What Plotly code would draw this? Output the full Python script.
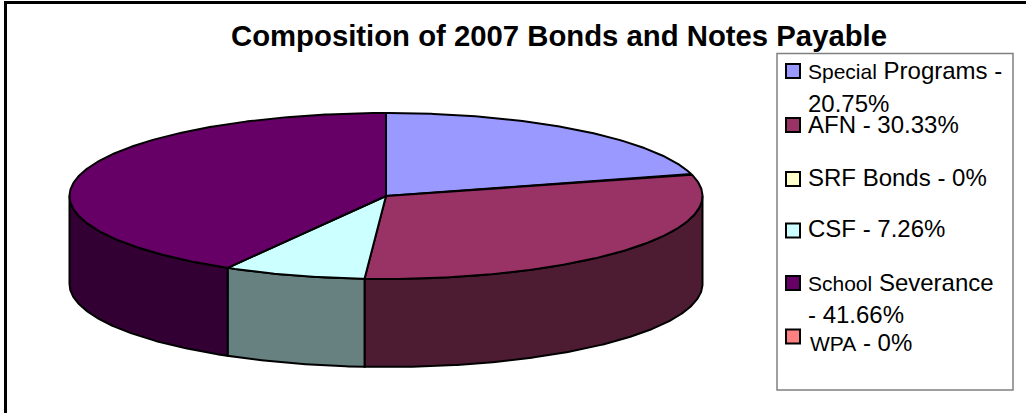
import numpy as np
import plotly.graph_objects as go

# Chart content
TITLE = "Composition of 2007 Bonds and Notes Payable"
categories = ["Special Programs", "AFN", "SRF Bonds", "CSF", "School Severance", "WPA"]
shares = [20.75, 30.33, 0, 7.26, 41.66, 0]
top_colors = ["#9999FF", "#993366", "#FFFFCC", "#CCFFFF", "#660066", "#FF8080"]
side_colors = ["#4C4C80", "#4D1C33", "#808066", "#678080", "#330033", "#804040"]

# Pie geometry, in canvas pixels
CX, CY = 386, 196
RX, RY = 316.5, 83
DEPTH = 88
W, H = 1026, 413
OUTLINE = "#000000"


def rim(t0, t1, dy=0.0):
    """Points along the ellipse between two clockwise angles (radians from 12 o'clock)."""
    t = np.linspace(t0, t1, max(2, int(abs(t1 - t0) * 120)))
    return CX + RX * np.sin(t), CY - RY * np.cos(t) + dy


fig = go.Figure()


def poly(x, y, color):
    fig.add_trace(go.Scatter(
        x=x, y=y, mode="lines", fill="toself", fillcolor=color,
        line=dict(color=OUTLINE, width=2), hoverinfo="skip", showlegend=False,
    ))


# Slice boundaries follow from the cumulative shares
edges = np.concatenate([[0], np.cumsum(shares)]) / sum(shares) * 2 * np.pi

# Outer wall: only the front half of the rim is visible
for i, color in enumerate(side_colors):
    t0, t1 = max(edges[i], np.pi / 2), min(edges[i + 1], 3 * np.pi / 2)
    if t1 <= t0:
        continue
    xt, yt = rim(t0, t1)
    xb, yb = rim(t1, t0, DEPTH)
    poly(np.r_[xt, xb, xt[0]], np.r_[yt, yb, yt[0]], color)

# Top face wedges
for i, color in enumerate(top_colors):
    if shares[i] == 0:
        continue
    xt, yt = rim(edges[i], edges[i + 1])
    poly(np.r_[CX, xt, CX], np.r_[CY, yt, CY], color)

# Legend entries: (swatch index, swatch y, [(text, text x, text y)])
LEGEND_FONT = 24
SMALL_FONT = 21
small = lambda s: f'<span style="font-size:{SMALL_FONT}px">{s}</span>'
legend_rows = [
    (0, 71, [(small("Special") + " Programs -", 806, 70), ("20.75%", 806, 103)]),
    (1, 125, [("AFN - 30.33%", 806, 124)]),
    (2, 179, [("SRF Bonds - 0%", 806, 177)]),
    (3, 230.5, [("CSF - 7.26%", 806, 228)]),
    (4, 283, [(small("School") + " Severance", 806, 282), ("- 41.66%", 806, 314)]),
    (5, 336.5, [(small("WPA") + " - 0%", 808, 342)]),
]

annotations = [dict(
    text=f"<b>{TITLE}</b>", x=559, y=35, xref="x", yref="y", showarrow=False,
    font=dict(family="Liberation Sans", size=29.3, color="#000000"),
)]
swatch_x, swatch_y, swatch_c = [], [], []
for idx, sy, lines in legend_rows:
    swatch_x.append(793)
    swatch_y.append(sy)
    swatch_c.append(top_colors[idx])
    for text, tx, ty in lines:
        annotations.append(dict(
            text=text, x=tx, y=ty, xref="x", yref="y", xanchor="left", yanchor="middle",
            showarrow=False, font=dict(family="Liberation Sans", size=LEGEND_FONT, color="#000000"),
        ))

fig.add_trace(go.Scatter(
    x=swatch_x, y=swatch_y, mode="markers", hoverinfo="skip", showlegend=False,
    marker=dict(symbol="square", size=14, color=swatch_c, line=dict(color="#000000", width=2)),
))

shapes = [
    # Legend box
    dict(type="rect", xref="x", yref="y", x0=777, x1=1013, y0=53.5, y1=390,
         line=dict(color="#808080", width=1.5), layer="below"),
    # Chart frame
    dict(type="line", xref="x", yref="y", x0=4, x1=1026, y0=2.5, y1=2.5, line=dict(color="#000000", width=3)),
    dict(type="line", xref="x", yref="y", x0=5.5, x1=5.5, y0=1, y1=413, line=dict(color="#000000", width=3)),
]

fig.update_layout(
    width=W, height=H, margin=dict(l=0, r=0, t=0, b=0),
    paper_bgcolor="#FFFFFF", plot_bgcolor="#FFFFFF",
    xaxis=dict(range=[0, W], visible=False, fixedrange=True),
    yaxis=dict(range=[H, 0], visible=False, fixedrange=True),
    annotations=annotations, shapes=shapes, showlegend=False,
)

fig.write_html("out.html", config=dict(displayModeBar=False))
